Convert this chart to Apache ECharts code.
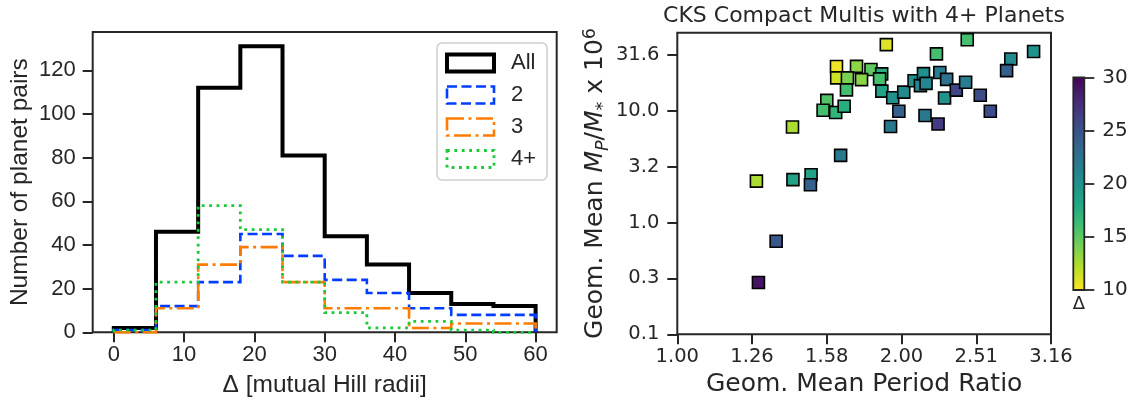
<!DOCTYPE html>
<html><head><meta charset="utf-8">
<script src="https://cdn.jsdelivr.net/npm/echarts@6/dist/echarts.min.js"></script>
<style>html,body{margin:0;padding:0;background:#fff}#c{width:1137px;height:403px}</style>
</head><body><div id="c"></div>
<script>
// ---------- Left panel: histogram of Delta ----------
const binEdges  = [0, 6, 12, 18, 24, 30, 36, 42, 48, 54, 60];
const countsAll = [2, 46, 112, 131, 81, 44, 31, 18, 13, 12];
const counts2   = [1, 12, 23, 45, 35, 24, 18, 11, 8, 8];
const counts3   = [0, 11, 31, 39, 23, 11, 11, 2, 4, 4];
const counts4   = [1, 23, 58, 47, 23, 9, 2, 5, 1, 0];
const histNames = ['All', '2', '3', '4+'];
const histXTicks = [0, 10, 20, 30, 40, 50, 60];
const histYTicks = [0, 20, 40, 60, 80, 100, 120];

// ---------- Right panel: scatter ----------
const periodRatio = [1.904, 2.443, 2.222, 2.997, 2.794, 2.758, 1.633, 1.737, 1.816, 1.877,
                     1.634, 1.689, 1.764, 1.865, 1.684, 1.878, 1.942, 2.009, 2.074, 2.115,
                     2.135, 2.152, 2.245, 2.293, 2.278, 2.362, 2.431, 2.543, 2.623, 1.979,
                     2.145, 2.233, 1.929, 1.585, 1.567, 1.629, 1.672, 1.426, 1.654, 1.276,
                     1.428, 1.510, 1.507, 1.356, 1.284];
const massRatio   = [39.1, 43.3, 32.3, 33.9, 29.1, 22.9, 24.9, 25.0, 23.4, 21.4,
                     19.7, 19.7, 19.0, 19.3, 15.4, 15.0, 13.1, 14.7, 18.6, 16.8,
                     21.5, 17.6, 22.0, 19.1, 13.0, 15.3, 18.0, 13.8, 9.9, 9.9,
                     9.08, 7.62, 7.24, 12.4, 10.1, 9.66, 11.0, 7.17, 3.99, 2.35,
                     2.42, 2.68, 2.18, 0.681, 0.291];
const deltaVals   = [11, 16, 16, 20, 20.5, 24, 10.5, 13.5, 15, 17.5,
                     11.5, 14, 13.5, 16, 16, 18.5, 20, 20.5, 20, 21,
                     20, 21, 21.5, 22.5, 20, 26, 21.5, 25.5, 25.5, 24,
                     22, 26.5, 22, 15.5, 16, 17, 17.5, 12.5, 22, 12.5,
                     18.5, 18.5, 24, 24.5, 29];
const periodTickExps = [0, 0.1, 0.2, 0.3, 0.4, 0.5];     // log10 of 1.00 ... 3.16
const massTickExps   = [-1, -0.5, 0, 0.5, 1, 1.5];       // log10 of 0.1 ... 31.6
const colorbarTicks  = [10, 15, 20, 25, 30];
const viridis = ['#440154','#482475','#414487','#355f8d','#2a788e','#21918c',
                 '#22a884','#44bf70','#7ad151','#bddf26','#fde725'];

const INK = '#262626';
const SANS_L = 'Liberation Sans, Arial, sans-serif';
const SANS_R = 'DejaVu Sans, sans-serif';

function stepData(counts) {
  const pts = [[binEdges[0], 0]];
  counts.forEach((c, i) => { pts.push([binEdges[i], c]); pts.push([binEdges[i + 1], c]); });
  pts.push([binEdges[binEdges.length - 1], 0]);
  return pts;
}
const histStyles = [
  {color: '#000000', width: 4,   type: 'solid'},
  {color: '#023eff', width: 2.6, type: [10, 4.5]},
  {color: '#ff7c00', width: 2.6, type: [17, 4.5, 3, 4.5]},
  {color: '#1ac938', width: 2.8, type: [2.8, 4.6]}
];
const histCounts = [countsAll, counts2, counts3, counts4];

const scatterData = periodRatio.map((p, i) => [Math.log10(p), Math.log10(massRatio[i]), deltaVals[i]]);

const histSeries = histCounts.map((c, i) => ({
  name: histNames[i], type: 'line', xAxisIndex: 0, yAxisIndex: 0,
  data: stepData(c), symbol: 'none', silent: true, clip: false,
  lineStyle: {color: histStyles[i].color, width: histStyles[i].width, type: histStyles[i].type, cap: 'butt', join: 'miter'},
  itemStyle: {color: histStyles[i].color}
}));

const tickLine = {color: INK, width: 2};
const chart = echarts.init(document.getElementById('c'), null, {renderer: 'canvas'});
chart.setOption({
  animation: false,
  backgroundColor: '#ffffff',
  title: {
    text: 'CKS Compact Multis with 4+ Planets',
    left: 864, top: 5, textAlign: 'center', padding: 0,
    textStyle: {fontFamily: SANS_R, fontSize: 22, fontWeight: 'normal', color: INK}
  },
  legend: {
    show: true, orient: 'vertical', left: 437, top: 43,
    selectedMode: false,
    icon: 'rect', itemWidth: 47, itemHeight: 17, itemGap: 10,
    padding: [9, 11, 10, 8],
    backgroundColor: '#ffffff', borderColor: '#cfcfcf', borderWidth: 1.5, borderRadius: 5,
    textStyle: {fontFamily: SANS_L, fontSize: 22, color: INK, padding: [0, 0, 0, 12]},
    data: histNames.map((n, i) => ({
      name: n, icon: 'rect',
      itemStyle: {color: 'rgba(0,0,0,0)', borderColor: histStyles[i].color,
                  borderWidth: histStyles[i].width, borderType: histStyles[i].type}
    }))
  },
  visualMap: {
    type: 'continuous', show: false, dimension: 2, min: 10, max: 30,
    seriesIndex: 4, inRange: {color: viridis.slice().reverse()}
  },
  grid: [
    {left: 92.7, top: 32, width: 464, height: 300.3, show: true, borderColor: INK, borderWidth: 2, backgroundColor: 'transparent'},
    {left: 677.3, top: 32.7, width: 373.7, height: 301.6, show: true, borderColor: INK, borderWidth: 2, backgroundColor: 'transparent'},
    {left: 1073.3, top: 77.3, width: 11, height: 212.7, show: true, borderColor: INK, borderWidth: 1.8,
     backgroundColor: {type: 'linear', x: 0, y: 0, x2: 0, y2: 1,
       colorStops: viridis.map((c, i) => ({offset: i / (viridis.length - 1), color: c}))}}
  ],
  xAxis: [
    {gridIndex: 0, type: 'value', min: -3, max: 63,
     axisLine: {show: false, onZero: false}, splitLine: {show: false},
     axisTick: {show: true, customValues: histXTicks, length: 10, lineStyle: tickLine},
     axisLabel: {customValues: histXTicks, margin: 12, fontFamily: SANS_L, fontSize: 22, color: INK},
     name: 'Δ [mutual Hill radii]', nameLocation: 'middle', nameGap: 40,
     nameTextStyle: {fontFamily: SANS_L, fontSize: 24.5, color: INK}},
    {gridIndex: 1, type: 'value', min: 0, max: 0.5,
     axisLine: {show: false, onZero: false}, splitLine: {show: false},
     axisTick: {show: true, customValues: periodTickExps, length: 10, lineStyle: tickLine},
     axisLabel: {customValues: periodTickExps, margin: 13, fontFamily: SANS_R, fontSize: 19.5, color: INK,
                 formatter: v => Math.pow(10, v).toFixed(2)},
     name: 'Geom. Mean Period Ratio', nameLocation: 'middle', nameGap: 38,
     nameTextStyle: {fontFamily: SANS_R, fontSize: 25, color: INK}},
    {gridIndex: 2, type: 'value', min: 0, max: 1,
     axisLine: {show: false, onZero: false}, axisTick: {show: false}, axisLabel: {show: false}, splitLine: {show: false},
     name: 'Δ', nameLocation: 'middle', nameGap: 5,
     nameTextStyle: {fontFamily: SANS_R, fontSize: 18, color: INK}}
  ],
  yAxis: [
    {gridIndex: 0, type: 'value', min: 0, max: 137.55,
     axisLine: {show: false, onZero: false}, splitLine: {show: false},
     axisTick: {show: true, customValues: histYTicks, length: 10, lineStyle: tickLine},
     axisLabel: {customValues: histYTicks, margin: 17, fontFamily: SANS_L, fontSize: 22, color: INK},
     name: 'Number of planet pairs', nameLocation: 'middle', nameGap: 60, nameRotate: 90,
     nameTextStyle: {fontFamily: SANS_L, fontSize: 24.5, color: INK}},
    {gridIndex: 1, type: 'value', min: -1, max: Math.log10(50),
     axisLine: {show: false, onZero: false}, splitLine: {show: false},
     axisTick: {show: true, customValues: massTickExps, length: 10, lineStyle: tickLine},
     axisLabel: {customValues: massTickExps, margin: 18, fontFamily: SANS_R, fontSize: 19.5, color: INK,
                 formatter: v => Math.pow(10, v).toFixed(1)},
     name: 'Geom. Mean {i|M}{sub|P}/{i|M}{sub|*} x 10{sup|6}', nameLocation: 'middle', nameGap: 64, nameRotate: 90,
     nameTextStyle: {fontFamily: SANS_R, fontSize: 25, color: INK, lineHeight: 30,
       rich: {
         i:   {fontFamily: SANS_R, fontSize: 25, fontStyle: 'italic', color: INK, lineHeight: 30},
         sub: {fontFamily: SANS_R, fontSize: 17.5, fontStyle: 'italic', color: INK, lineHeight: 17, padding: [13, 0, 0, 0], verticalAlign: 'top'},
         sup: {fontFamily: SANS_R, fontSize: 17.5, color: INK, lineHeight: 17, verticalAlign: 'top'}
       }}},
    {gridIndex: 2, type: 'value', position: 'right', min: 10, max: 30, interval: 5,
     axisLine: {show: false, onZero: false}, splitLine: {show: false},
     axisTick: {show: true, length: 10, lineStyle: {color: INK, width: 1.8}},
     axisLabel: {margin: 18, fontFamily: SANS_R, fontSize: 20, color: INK}}
  ],
  series: histSeries.concat([{
    name: 'pairs', type: 'scatter', xAxisIndex: 1, yAxisIndex: 1,
    data: scatterData, symbol: 'rect', symbolSize: 12, silent: true,
    itemStyle: {borderColor: '#000000', borderWidth: 1.6, opacity: 1}
  }])
});
</script>
</body></html>
